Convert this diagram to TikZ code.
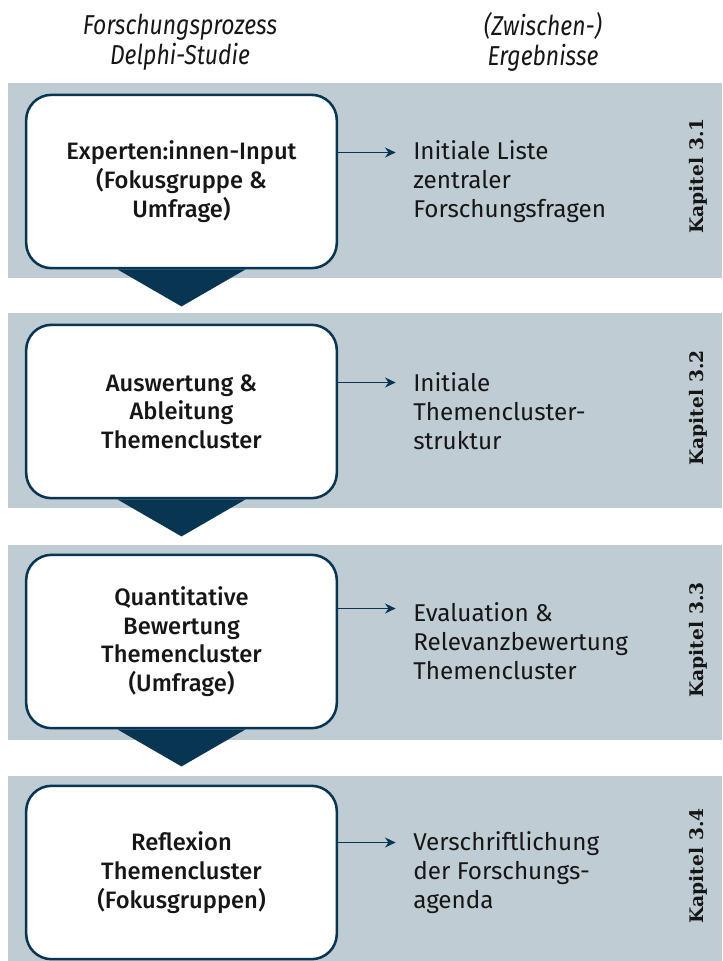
\documentclass[tikz,border=0pt]{standalone}
\usepackage{fontspec}
\setmainfont{Fira Sans}
\newfontfamily\stagefont{Fira Sans Medium}
\newfontfamily\headfont[FakeStretch=0.84]{Fira Sans}
\newfontfamily\kapfont{DejaVu Serif}
\usetikzlibrary{arrows.meta,calc}
\definecolor{navy}{HTML}{073552}
\definecolor{bandgrey}{HTML}{BFCCD4}
\definecolor{ink}{HTML}{161616}

\begin{document}
\begin{tikzpicture}[
    x=0.75pt, y=-0.75pt,
    every node/.style={text=ink},
    stage/.style={draw=navy, line width=1.9pt, fill=white, rounded corners=19pt,
        minimum width=233pt, minimum height=130pt, align=center,
        font=\stagefont\fontsize{17.8}{21.5}\selectfont},
    result/.style={anchor=west, inner sep=0pt, align=left,
        font=\fontsize{18.2}{21.8}\selectfont},
    chapter/.style={rotate=90, font=\kapfont\bfseries\fontsize{14}{16}\selectfont},
    head/.style={align=center, font=\headfont\itshape\fontsize{20.5}{22.5}\selectfont},
    link/.style={draw=navy, line width=1.4pt, -{Stealth[length=8pt,width=7.5pt]}, shorten >=13pt},
    drop/.style={fill=navy}
]
\useasboundingbox (0,0) rectangle (722,961);

% column heads
\node[head] (hproc) at (180,42) {Forschungsprozess\\ Delphi-Studie};
\node[head] (hres) at (543,42) {(Zwischen-)\\ Ergebnisse};

% grey bands
\fill[bandgrey] (8,83) rectangle (722,278);
\fill[bandgrey] (8,313) rectangle (722,508);
\fill[bandgrey] (8,545) rectangle (722,740);
\fill[bandgrey] (8,776) rectangle (722,961);

% process steps
\node[stage] (b1) at (181.5,181.5) {Experten:innen-Input\\ (Fokusgruppe \&\\ Umfrage)};
\node[stage] (b2) at (181.5,411.5) {Auswertung \&\\ Ableitung\\ Themencluster};
\node[stage] (b3) at (181.5,641.5) {Quantitative\\ Bewertung\\ Themencluster\\ (Umfrage)};
\node[stage] (b4) at (181.5,872.5) {Reflexion\\ Themencluster\\ (Fokusgruppen)};

% down pointers
\fill[drop] ($(b1.south)+(-64,0)$) -- ($(b1.south)+(64,0)$) -- ($(b1.south)+(0,37)$) -- cycle;
\fill[drop] ($(b2.south)+(-64,0)$) -- ($(b2.south)+(64,0)$) -- ($(b2.south)+(0,37)$) -- cycle;
\fill[drop] ($(b3.south)+(-64,0)$) -- ($(b3.south)+(64,0)$) -- ($(b3.south)+(0,37)$) -- cycle;

% results
\node[result] (r1) at (413,181.5) {Initiale Liste\\ zentraler\\ Forschungsfragen};
\node[result] (r2) at (413,411.5) {Initiale\\ Themencluster-\\ struktur};
\node[result] (r3) at (413,641.5) {Evaluation \&\\ Relevanzbewertung\\ Themencluster};
\node[result] (r4) at (413,872.5) {Verschriftlichung\\ der Forschungs-\\ agenda};

\draw[link] ($(b1.east)+(0,-29)$) -- ($(r1.west)+(0,-29)$);
\draw[link] ($(b2.east)+(0,-29)$) -- ($(r2.west)+(0,-29)$);
\draw[link] ($(b3.east)+(0,-33)$) -- ($(r3.west)+(0,-33)$);
\draw[link] ($(b4.east)+(0,-30)$) -- ($(r4.west)+(0,-30)$);

% chapters
\node[chapter] (k1) at (698,176) {Kapitel 3.1};
\node[chapter] (k2) at (698,408) {Kapitel 3.2};
\node[chapter] (k3) at (698,640) {Kapitel 3.3};
\node[chapter] (k4) at (698,866) {Kapitel 3.4};
\end{tikzpicture}
\end{document}
